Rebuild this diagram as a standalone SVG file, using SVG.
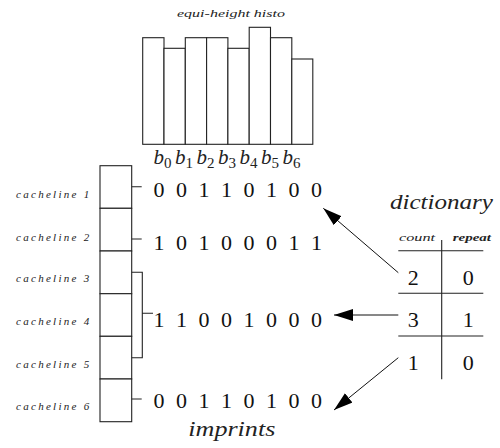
<svg xmlns="http://www.w3.org/2000/svg" width="500" height="448" viewBox="0 0 500 448">
<defs>
<style>
.s{fill:#fff;stroke:#222;stroke-width:1.1}
.l{fill:none;stroke:#222;stroke-width:1.1}
.a{fill:none;stroke:#111;stroke-width:1}
.it{font-family:'Liberation Serif','DejaVu Serif','Times New Roman',serif;font-style:italic;fill:#222}
.dg{font-family:'Liberation Serif','DejaVu Serif','Times New Roman',serif;font-size:22px;fill:#111;text-anchor:middle}
.cl{font-family:'Liberation Serif','DejaVu Serif','Times New Roman',serif;font-style:italic;font-size:11px;fill:#222}
</style>
<marker id="ah" markerUnits="userSpaceOnUse" markerWidth="20" markerHeight="13" refX="19" refY="6" orient="auto">
<path d="M0,0 L19,6 L0,12 Z" fill="#000"/>
</marker>
</defs>
<rect width="500" height="448" fill="#fff"/>

<g id="histogram">
<text class="it" x="231" y="16.5" font-size="9.5" text-anchor="middle" textLength="108" lengthAdjust="spacingAndGlyphs">equi-height histo</text>
<rect class="s" x="142.7" y="37.7" width="21.3" height="106.6"/>
<rect class="s" x="164" y="48.3" width="21.3" height="96"/>
<rect class="s" x="185.3" y="37.7" width="21.3" height="106.6"/>
<rect class="s" x="206.6" y="37.7" width="21.3" height="106.6"/>
<rect class="s" x="227.9" y="48.3" width="21.3" height="96"/>
<rect class="s" x="249.2" y="27.3" width="21.3" height="117"/>
<rect class="s" x="270.5" y="37.7" width="21.3" height="106.6"/>
<rect class="s" x="291.8" y="59" width="21" height="85.3"/>
<g class="it" font-size="21">
<text x="153.5" y="164">b<tspan font-size="15" font-style="normal" dy="4">0</tspan></text>
<text x="175" y="164">b<tspan font-size="15" font-style="normal" dy="4">1</tspan></text>
<text x="196.5" y="164">b<tspan font-size="15" font-style="normal" dy="4">2</tspan></text>
<text x="218" y="164">b<tspan font-size="15" font-style="normal" dy="4">3</tspan></text>
<text x="239.5" y="164">b<tspan font-size="15" font-style="normal" dy="4">4</tspan></text>
<text x="261" y="164">b<tspan font-size="15" font-style="normal" dy="4">5</tspan></text>
<text x="282.5" y="164">b<tspan font-size="15" font-style="normal" dy="4">6</tspan></text>
</g>
</g>

<g id="cachelines">
<rect class="s" x="100" y="165.7" width="31.7" height="42.6"/>
<rect class="s" x="100" y="208.3" width="31.7" height="42.7"/>
<rect class="s" x="100" y="251" width="31.7" height="42.7"/>
<rect class="s" x="100" y="293.7" width="31.7" height="42.6"/>
<rect class="s" x="100" y="336.3" width="31.7" height="42.7"/>
<rect class="s" x="100" y="379" width="31.7" height="42.7"/>
<text class="cl" x="16" y="197.5" textLength="73.3" lengthAdjust="spacing">cacheline 1</text>
<text class="cl" x="16" y="240.5" textLength="73.3" lengthAdjust="spacing">cacheline 2</text>
<text class="cl" x="16" y="282" textLength="73.3" lengthAdjust="spacing">cacheline 3</text>
<text class="cl" x="16" y="325" textLength="73.3" lengthAdjust="spacing">cacheline 4</text>
<text class="cl" x="16" y="367.5" textLength="73.3" lengthAdjust="spacing">cacheline 5</text>
<text class="cl" x="16" y="410" textLength="73.3" lengthAdjust="spacing">cacheline 6</text>
</g>

<g id="imprints">
<path class="l" d="M131.7,186.7 H141.7 M131.7,239 H141.7 M131.7,272.3 H142.3 V357.7 H131.7 M142.3,313.3 H153 M131.7,399 H141.7"/>
<text class="dg" x="159 181.5 204 226.5 249 271.5 294 316.5" y="197.3">00110100</text>
<text class="dg" x="159 181.5 204 226.5 249 271.5 294 316.5" y="250">10100011</text>
<text class="dg" x="159 181.5 204 226.5 249 271.5 294 316.5" y="326.7">11001000</text>
<text class="dg" x="159 181.5 204 226.5 249 271.5 294 316.5" y="408">00110100</text>
<text class="it" x="188.3" y="436" font-size="22" textLength="87" lengthAdjust="spacingAndGlyphs">imprints</text>
</g>

<g id="dictionary">
<text class="it" x="390" y="209" font-size="22" textLength="103" lengthAdjust="spacingAndGlyphs">dictionary</text>
<text class="it" x="399" y="241" font-size="10" textLength="36" lengthAdjust="spacingAndGlyphs">count</text>
<text class="it" x="452.7" y="241" font-size="10" font-weight="bold" textLength="38.3" lengthAdjust="spacingAndGlyphs">repeat</text>
<path class="l" d="M398.3,250.7 H483.3 M398.3,293.3 H483.3 M398.3,336 H483.3 M441.7,240 V379.3"/>
<text class="dg" x="413.3 468.3" y="285">20</text>
<text class="dg" x="413.3 468.3" y="326.7">31</text>
<text class="dg" x="413.3 468.3" y="370">10</text>
</g>

<g id="connectors">
<line class="a" x1="398.3" y1="272.7" x2="323.3" y2="208.3" marker-end="url(#ah)"/>
<line class="a" x1="398.3" y1="315" x2="334" y2="315" marker-end="url(#ah)"/>
<line class="a" x1="398.3" y1="357.7" x2="334" y2="410" marker-end="url(#ah)"/>
</g>
</svg>
